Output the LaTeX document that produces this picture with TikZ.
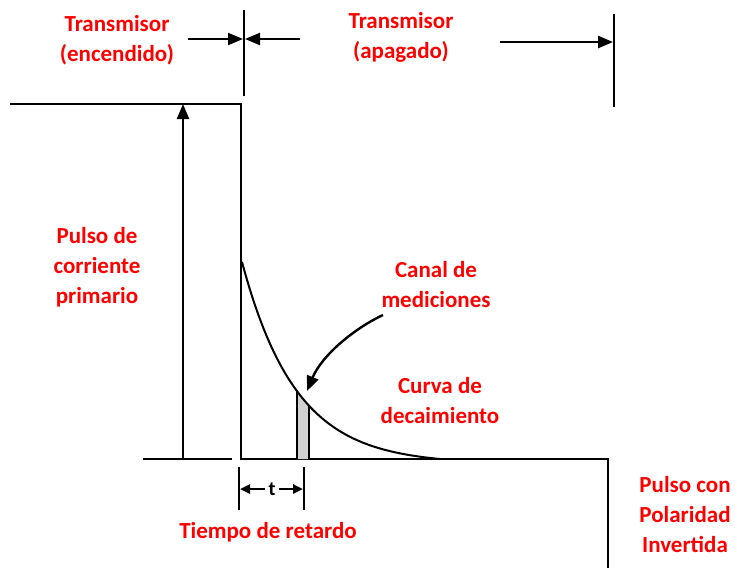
\documentclass[tikz,border=0pt]{standalone}
\usepackage{fontspec}
\setmainfont{Carlito}
\usetikzlibrary{arrows.meta}

\newcommand{\decaycurve}{459-206*(exp(-(\x-241)/54)-0.0251)}
\tikzset{lbl/.style={font=\fontsize{23}{30}\selectfont\bfseries, text=red, align=center},
    small/.style={>={Triangle[length=10pt,width=9pt]}}}

\begin{document}
\begin{tikzpicture}[x=1pt, y=-1pt, line width=2.4pt,
    >={Triangle[length=15pt,width=12pt]}]
    \useasboundingbox (0,0) rectangle (735,568);
    % pulse and base line
    \draw (10,104) -- (241,104) -- (241,459) -- (608,459) -- (608,568);
    \draw (143,459) -- (232,459);
    % decay curve and channel
    \fill[black!18] (297,459) -- plot[domain=297:309, samples=6] (\x,{\decaycurve}) -- (309,459) -- cycle;
    \draw (297,459) -- (297,{459-206*(exp(-56/54)-0.0251)});
    \draw (309,459) -- (309,{459-206*(exp(-68/54)-0.0251)});
    \draw[line width=2pt] plot[domain=242:440, samples=80, smooth] (\x,{\decaycurve});
    % markers
    \draw (244,10) -- (244,96);
    \draw (614,14) -- (614,107);
    \draw (239,467) -- (239,510);
    \draw (304,467) -- (304,510);
    \coordinate (upfoot) at (183,459);
    \coordinate (uptop) at (183,104);
    \coordinate (onA) at (188,39);
    \coordinate (onB) at (243,39);
    \coordinate (offA) at (300,39);
    \coordinate (offB) at (245,39);
    \coordinate (endA) at (500,42);
    \coordinate (endB) at (613,42);
    \coordinate (chanfrom) at (383,315);
    \coordinate (chan) at (307,391);
    \coordinate (delL) at (240,489);
    \coordinate (delR) at (303,489);
    \draw[->] (upfoot) -- (uptop);
    \draw[->] (onA) -- (onB);
    \draw[->] (offA) -- (offB);
    \draw[->] (endA) -- (endB);
    % labels
    \node[lbl] (txon) at (117,40) {Transmisor\\(encendido)};
    \node[lbl] (txoff) at (401,37) {Transmisor\\(apagado)};
    \node[lbl] (pulse) at (97,267) {Pulso de\\corriente\\primario};
    \node[lbl] (canal) at (436,285) {Canal de\\mediciones};
    \node[lbl] (curva) at (440,401) {Curva de\\decaimiento};
    \node[lbl] (delay) at (268,532) {Tiempo de retardo};
    \node[lbl] (invert) at (685,515) {Pulso con\\Polaridad\\Invertida};
    \node[font=\fontsize{20}{20}\selectfont\bfseries, inner sep=2pt] (tee) at (272,489) {t};
    \draw[->] (chanfrom) .. controls (355,328) and (322,355) .. (chan);
    \draw[->, small] (tee) -- (delL);
    \draw[->, small] (tee) -- (delR);
\end{tikzpicture}
\end{document}
